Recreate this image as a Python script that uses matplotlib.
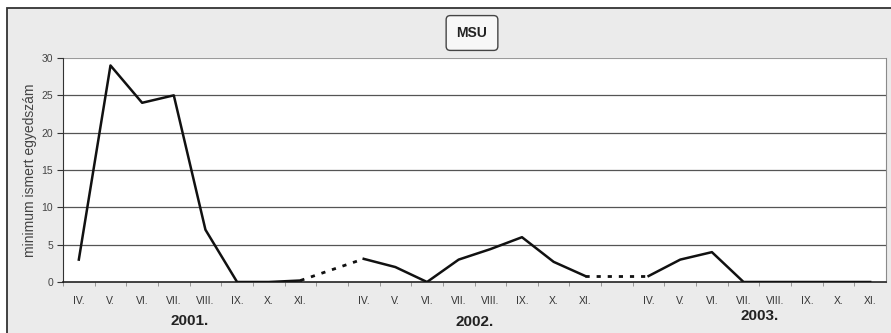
import numpy as np
import matplotlib.pyplot as plt
from matplotlib.patches import Rectangle

plt.rcParams['font.family'] = ['Liberation Sans', 'DejaVu Sans']

# --- adatok ---
months = ["IV.", "V.", "VI.", "VII.", "VIII.", "IX.", "X.", "XI."]
years = ["2001.", "2002.", "2003."]
msu_2001 = [3, 29, 24, 25, 7, 0, 0, 0.2]
msu_2002 = [3.1, 2, 0, 3, 4.4, 6, 2.7, 0.8]
msu_2003 = [0.8, 3, 4, 0, 0, 0, 0, 0]
series = [msu_2001, msu_2002, msu_2003]
yticks = [0, 5, 10, 15, 20, 25, 30]

block = len(months) + 1  # egy üres hely az évek között

fig = plt.figure(figsize=(8.91, 3.33), dpi=100, facecolor='white')

# szkennelt keret + szürke háttér
fig.patches.append(Rectangle((7 / 891, -0.05), 1.1, 1 - 8 / 333 + 0.05,
                             transform=fig.transFigure, facecolor='#ebebeb',
                             edgecolor='#333333', lw=1.3, zorder=-10))

ax = fig.add_axes([63 / 891, 1 - 282 / 333, (886 - 63) / 891, 224 / 333])
ax.set_facecolor('white')

for k, vals in enumerate(series):
    x = np.arange(len(months)) + k * block
    ax.plot(x, vals, color='#111111', lw=1.8, zorder=3)
    if k < len(series) - 1:
        nxt = series[k + 1]
        ax.plot([x[-1], (k + 1) * block], [vals[-1], nxt[0]], color='#111111',
                lw=2.0, dashes=(1.5, 2.5), zorder=3)

ax.set_xlim(-0.5, len(series) * block - 1.5)
ax.set_ylim(0, 30)

# rácsvonalak
for y in yticks[1:-1]:
    ax.axhline(y, color='#555555', lw=0.9, zorder=1)
ax.axhline(30, color='#9a9a9a', lw=0.8, zorder=1)

ax.spines['top'].set_visible(False)
ax.spines['left'].set_color('#333333')
ax.spines['bottom'].set_color('#222222')
ax.spines['bottom'].set_linewidth(1.2)
ax.spines['right'].set_color('#8a8a8a')
ax.spines['right'].set_linewidth(0.8)

# x tengely
pos, labels = [], []
for k in range(len(series)):
    pos += list(np.arange(len(months)) + k * block)
    labels += months
ax.set_xticks(pos)
ax.set_xticklabels(labels, fontsize=7.5, color='#333333')
ax.set_xticks(np.arange(-0.5, len(series) * block - 1.5, 1), minor=True)
ax.tick_params(axis='x', which='major', length=0, pad=10)
ax.tick_params(axis='x', which='minor', length=3, color='#888888', direction='out')

# y tengely
ax.set_yticks(yticks)
ax.set_yticklabels([str(v) for v in yticks], fontsize=7.5, color='#444444')
ax.tick_params(axis='y', length=4, color='#333333', pad=3)
ax.set_ylabel("minimum ismert egyedszám", fontsize=10, color='#444444', labelpad=3)

# évszámok
trans = ax.get_xaxis_transform()
year_y = [-0.174, -0.178, -0.152]
for k, yr in enumerate(years):
    ax.text(k * block + 3.5, year_y[k], yr, transform=trans, ha='center', va='center',
            fontsize=11, fontweight='bold', color='#222222')

# cím dobozban
fig.text(472 / 891, 1 - 33 / 333, "MSU", ha='center', va='center', fontsize=10,
         fontweight='bold', color='#222222',
         bbox=dict(boxstyle='round,pad=0.75,rounding_size=0.3', facecolor='#f7f7f7',
                   edgecolor='#444444', lw=1.0))

fig.savefig('out.png', dpi=100, facecolor=fig.get_facecolor())
